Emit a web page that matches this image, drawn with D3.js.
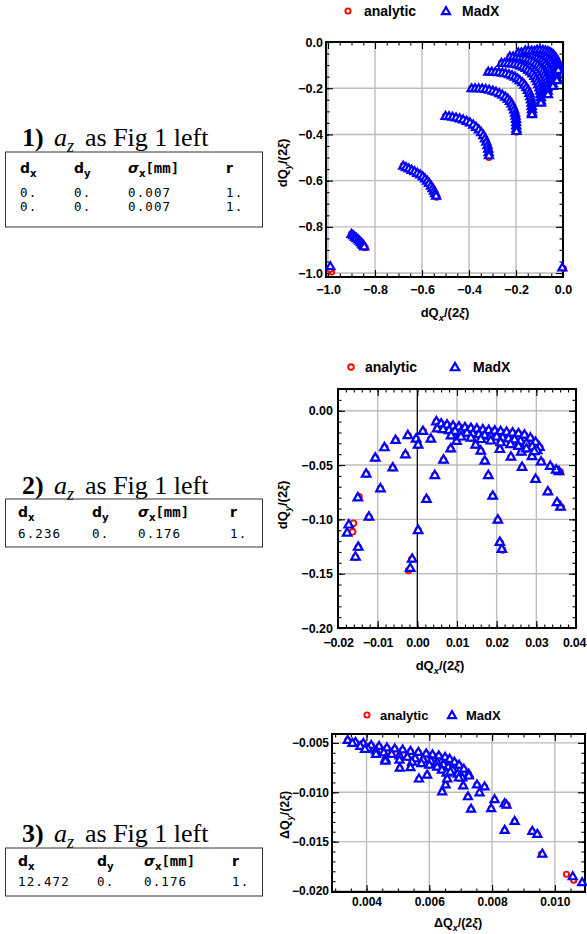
<!DOCTYPE html>
<html><head><meta charset="utf-8">
<script src="https://cdn.jsdelivr.net/npm/d3@7"></script>
<style>body{margin:0;background:#fff}svg{display:block}</style>
</head><body>
<svg id="c" width="587" height="934"></svg>
<script>
// ---------------- DATA ----------------
const seriesNames = ["analytic", "MadX"];

const p1XTicks = [-1.0, -0.8, -0.6, -0.4, -0.2, 0.0];
const p1YTicks = [0.0, -0.2, -0.4, -0.6, -0.8, -1.0];
const p2XTicks = [-0.02, -0.01, 0.00, 0.01, 0.02, 0.03, 0.04];
const p2YTicks = [0.00, -0.05, -0.10, -0.15, -0.20];
const p3XTicks = [0.004, 0.006, 0.008, 0.010];
const p3YTicks = [-0.005, -0.010, -0.015, -0.020];

const p1MadX = [
 [-0.990,-0.970],[-0.003,-0.975],
 [-0.900,-0.830],[-0.893,-0.836],[-0.886,-0.842],[-0.879,-0.848],[-0.872,-0.854],[-0.866,-0.860],[-0.860,-0.866],[-0.855,-0.872],[-0.850,-0.878],[-0.846,-0.884],
 [-0.680,-0.535],[-0.668,-0.541],[-0.656,-0.547],[-0.644,-0.553],[-0.632,-0.559],[-0.620,-0.566],[-0.608,-0.573],[-0.597,-0.581],[-0.587,-0.590],[-0.578,-0.600],[-0.570,-0.610],[-0.562,-0.621],[-0.555,-0.632],[-0.549,-0.643],[-0.544,-0.654],[-0.540,-0.665],
 [-0.500,-0.320],[-0.485,-0.321],[-0.470,-0.323],[-0.455,-0.326],[-0.440,-0.330],[-0.425,-0.335],[-0.410,-0.341],[-0.396,-0.348],[-0.382,-0.357],[-0.370,-0.367],[-0.358,-0.378],[-0.348,-0.390],[-0.339,-0.403],[-0.332,-0.417],[-0.326,-0.431],[-0.321,-0.446],[-0.318,-0.461],[-0.316,-0.476],[-0.315,-0.490],
 [-0.389,-0.200],[-0.374,-0.200],[-0.359,-0.200],[-0.344,-0.201],[-0.329,-0.203],[-0.314,-0.206],[-0.299,-0.210],[-0.285,-0.215],[-0.271,-0.221],[-0.258,-0.228],[-0.246,-0.236],[-0.235,-0.245],[-0.226,-0.255],[-0.219,-0.266],[-0.213,-0.278],[-0.208,-0.291],[-0.204,-0.305],[-0.202,-0.319],[-0.200,-0.333],[-0.199,-0.347],[-0.199,-0.361],[-0.198,-0.375],[-0.198,-0.385],
 [-0.318,-0.128],[-0.303,-0.128],[-0.288,-0.129],[-0.273,-0.130],[-0.258,-0.132],[-0.244,-0.135],[-0.230,-0.139],[-0.217,-0.144],[-0.205,-0.150],[-0.194,-0.157],[-0.184,-0.165],[-0.173,-0.174],[-0.164,-0.184],[-0.156,-0.195],[-0.149,-0.207],[-0.143,-0.220],[-0.139,-0.234],[-0.136,-0.248],[-0.134,-0.262],[-0.133,-0.276],[-0.132,-0.290],[-0.132,-0.304],[-0.132,-0.312],
 [-0.262,-0.090],[-0.248,-0.090],[-0.234,-0.091],[-0.220,-0.092],[-0.207,-0.094],[-0.194,-0.097],[-0.182,-0.101],[-0.170,-0.106],[-0.159,-0.112],[-0.149,-0.119],[-0.139,-0.127],[-0.130,-0.136],[-0.122,-0.146],[-0.115,-0.157],[-0.109,-0.169],[-0.104,-0.182],[-0.100,-0.196],[-0.097,-0.210],[-0.095,-0.224],[-0.094,-0.238],[-0.094,-0.252],[-0.094,-0.262],
 [-0.226,-0.062],[-0.212,-0.062],[-0.198,-0.063],[-0.185,-0.064],[-0.172,-0.066],[-0.160,-0.069],[-0.148,-0.073],[-0.137,-0.078],[-0.127,-0.084],[-0.117,-0.091],[-0.108,-0.099],[-0.100,-0.108],[-0.093,-0.118],[-0.086,-0.129],[-0.080,-0.141],[-0.075,-0.154],[-0.071,-0.168],[-0.068,-0.182],[-0.066,-0.196],[-0.065,-0.210],[-0.064,-0.225],
 [-0.190,-0.045],[-0.177,-0.045],[-0.164,-0.046],[-0.151,-0.047],[-0.139,-0.049],[-0.127,-0.052],[-0.116,-0.056],[-0.106,-0.061],[-0.096,-0.067],[-0.087,-0.074],[-0.079,-0.082],[-0.072,-0.091],[-0.065,-0.101],[-0.059,-0.112],[-0.054,-0.124],[-0.050,-0.137],[-0.047,-0.150],[-0.045,-0.164],[-0.044,-0.178],[-0.043,-0.190],
 [-0.160,-0.036],[-0.147,-0.036],[-0.134,-0.037],[-0.122,-0.038],[-0.110,-0.040],[-0.099,-0.043],[-0.088,-0.047],[-0.078,-0.052],[-0.069,-0.058],[-0.061,-0.065],[-0.054,-0.073],[-0.047,-0.082],[-0.041,-0.092],[-0.036,-0.103],[-0.032,-0.115],[-0.029,-0.128],[-0.027,-0.141],[-0.026,-0.155],[-0.026,-0.165],
 [-0.110,-0.033],[-0.098,-0.033],[-0.086,-0.034],[-0.075,-0.036],[-0.065,-0.039],[-0.056,-0.043],[-0.048,-0.048],[-0.041,-0.054],[-0.035,-0.061],[-0.030,-0.069],[-0.026,-0.078],[-0.023,-0.088],[-0.021,-0.099],[-0.020,-0.110],[-0.020,-0.120]
];
const p1Analytic = [
 [-0.985,-0.995],[-0.992,-0.985],[0.002,-0.980],
 [-0.900,-0.830],[-0.893,-0.836],[-0.886,-0.842],[-0.879,-0.848],[-0.872,-0.854],[-0.866,-0.860],[-0.860,-0.866],[-0.855,-0.872],[-0.850,-0.878],[-0.846,-0.884],[-0.842,-0.890],
 [-0.680,-0.535],[-0.668,-0.541],[-0.656,-0.547],[-0.644,-0.553],[-0.632,-0.559],[-0.620,-0.566],[-0.608,-0.573],[-0.597,-0.581],[-0.587,-0.590],[-0.578,-0.600],[-0.570,-0.610],[-0.562,-0.621],[-0.555,-0.632],[-0.549,-0.643],[-0.544,-0.654],[-0.540,-0.665],[-0.537,-0.672],
 [-0.500,-0.320],[-0.485,-0.321],[-0.470,-0.323],[-0.455,-0.326],[-0.440,-0.330],[-0.425,-0.335],[-0.410,-0.341],[-0.396,-0.348],[-0.382,-0.357],[-0.370,-0.367],[-0.358,-0.378],[-0.348,-0.390],[-0.339,-0.403],[-0.332,-0.417],[-0.326,-0.431],[-0.321,-0.446],[-0.318,-0.461],[-0.316,-0.476],[-0.315,-0.490],[-0.315,-0.500],
 [-0.389,-0.200],[-0.374,-0.200],[-0.359,-0.200],[-0.344,-0.201],[-0.329,-0.203],[-0.314,-0.206],[-0.299,-0.210],[-0.285,-0.215],[-0.271,-0.221],[-0.258,-0.228],[-0.246,-0.236],[-0.235,-0.245],[-0.226,-0.255],[-0.219,-0.266],[-0.213,-0.278],[-0.208,-0.291],[-0.204,-0.305],[-0.202,-0.319],[-0.200,-0.333],[-0.199,-0.347],[-0.199,-0.361],[-0.198,-0.375],[-0.198,-0.390],
 [-0.318,-0.128],[-0.303,-0.128],[-0.288,-0.129],[-0.273,-0.130],[-0.258,-0.132],[-0.244,-0.135],[-0.230,-0.139],[-0.217,-0.144],[-0.205,-0.150],[-0.194,-0.157],[-0.184,-0.165],[-0.173,-0.174],[-0.164,-0.184],[-0.156,-0.195],[-0.149,-0.207],[-0.143,-0.220],[-0.139,-0.234],[-0.136,-0.248],[-0.134,-0.262],[-0.133,-0.276],[-0.132,-0.290],[-0.132,-0.304],[-0.132,-0.315],
 [-0.262,-0.090],[-0.248,-0.090],[-0.234,-0.091],[-0.220,-0.092],[-0.207,-0.094],[-0.194,-0.097],[-0.182,-0.101],[-0.170,-0.106],[-0.159,-0.112],[-0.149,-0.119],[-0.139,-0.127],[-0.130,-0.136],[-0.122,-0.146],[-0.115,-0.157],[-0.109,-0.169],[-0.104,-0.182],[-0.100,-0.196],[-0.097,-0.210],[-0.095,-0.224],[-0.094,-0.238],[-0.094,-0.252],[-0.094,-0.265],
 [-0.226,-0.062],[-0.212,-0.062],[-0.198,-0.063],[-0.185,-0.064],[-0.172,-0.066],[-0.160,-0.069],[-0.148,-0.073],[-0.137,-0.078],[-0.127,-0.084],[-0.117,-0.091],[-0.108,-0.099],[-0.100,-0.108],[-0.093,-0.118],[-0.086,-0.129],[-0.080,-0.141],[-0.075,-0.154],[-0.071,-0.168],[-0.068,-0.182],[-0.066,-0.196],[-0.065,-0.210],[-0.064,-0.228],
 [-0.190,-0.045],[-0.177,-0.045],[-0.164,-0.046],[-0.151,-0.047],[-0.139,-0.049],[-0.127,-0.052],[-0.116,-0.056],[-0.106,-0.061],[-0.096,-0.067],[-0.087,-0.074],[-0.079,-0.082],[-0.072,-0.091],[-0.065,-0.101],[-0.059,-0.112],[-0.054,-0.124],[-0.050,-0.137],[-0.047,-0.150],[-0.045,-0.164],[-0.044,-0.178],[-0.043,-0.192],
 [-0.160,-0.036],[-0.147,-0.036],[-0.134,-0.037],[-0.122,-0.038],[-0.110,-0.040],[-0.099,-0.043],[-0.088,-0.047],[-0.078,-0.052],[-0.069,-0.058],[-0.061,-0.065],[-0.054,-0.073],[-0.047,-0.082],[-0.041,-0.092],[-0.036,-0.103],[-0.032,-0.115],[-0.029,-0.128],[-0.027,-0.141],[-0.026,-0.155],[-0.026,-0.167],
 [-0.110,-0.033],[-0.098,-0.033],[-0.086,-0.034],[-0.075,-0.036],[-0.065,-0.039],[-0.056,-0.043],[-0.048,-0.048],[-0.041,-0.054],[-0.035,-0.061],[-0.030,-0.069],[-0.026,-0.078],[-0.023,-0.088],[-0.021,-0.099],[-0.020,-0.110],[-0.020,-0.121]
];

const p2MadX = [
 [-0.0177,-0.1120],[-0.0173,-0.1045],[-0.0150,-0.0795],[-0.0129,-0.0577],[-0.0106,-0.0430],[-0.0083,-0.0334],[-0.0055,-0.0267],[-0.0024,-0.0222],[0.0014,-0.0184],[0.0048,-0.0095],
 [-0.0156,-0.1340],[-0.0149,-0.1250],[-0.0122,-0.0973],[-0.0093,-0.0712],[-0.0062,-0.0520],[-0.0030,-0.0399],[-0.0003,-0.0255],[0.0034,-0.0255],
 [-0.0018,-0.1445],[-0.0013,-0.1360],[0.0002,-0.1096],[0.0023,-0.0810],[0.0044,-0.0590],[0.0066,-0.0448],[0.0084,-0.0345],[0.0099,-0.0275],[0.0002,-0.0310],
 [0.0213,-0.1270],[0.0208,-0.1205],[0.0203,-0.1000],[0.0190,-0.0780],[0.0179,-0.0590],[0.0170,-0.0457],[0.0160,-0.0365],[0.0147,-0.0310],
 [0.0361,-0.0880],[0.0352,-0.0840],[0.0329,-0.0740],[0.0298,-0.0625],[0.0264,-0.0515],[0.0236,-0.0420],[0.0208,-0.0350],
 [0.0357,-0.0555],[0.0350,-0.0540],[0.0335,-0.0505],[0.0312,-0.0465],[0.0289,-0.0415],[0.0262,-0.0375],
 [0.0060,-0.0115],[0.0075,-0.0125],[0.0090,-0.0135],[0.0105,-0.0143],[0.0120,-0.0150],[0.0135,-0.0157],[0.0150,-0.0163],[0.0165,-0.0169],[0.0180,-0.0175],[0.0195,-0.0180],[0.0210,-0.0186],[0.0225,-0.0192],[0.0240,-0.0198],[0.0255,-0.0205],[0.0270,-0.0218],[0.0285,-0.0245],[0.0298,-0.0285],[0.0308,-0.0330],
 [0.0050,-0.0160],[0.0065,-0.0168],[0.0080,-0.0176],[0.0095,-0.0184],[0.0110,-0.0192],[0.0125,-0.0200],[0.0140,-0.0207],[0.0155,-0.0214],[0.0170,-0.0221],[0.0185,-0.0228],[0.0200,-0.0235],[0.0215,-0.0243],[0.0230,-0.0252],[0.0245,-0.0262],[0.0260,-0.0275],[0.0275,-0.0295],[0.0290,-0.0325],[0.0302,-0.0360],
 [0.0085,-0.0225],[0.0110,-0.0235],[0.0135,-0.0245],[0.0160,-0.0258],[0.0185,-0.0272],[0.0210,-0.0288],[0.0235,-0.0305],[0.0255,-0.0322],[0.0275,-0.0345],[0.0295,-0.0370]
];
const p2Analytic = [
 [-0.0163,-0.1115],[-0.0161,-0.1035],[-0.0147,-0.0792],[-0.0128,-0.0582],[-0.0105,-0.0435],[-0.0082,-0.0339],[-0.0054,-0.0272],[-0.0023,-0.0227],[0.0015,-0.0189],[0.0048,-0.0100],
 [-0.0156,-0.1348],[-0.0149,-0.1257],[-0.0122,-0.0978],[-0.0093,-0.0717],[-0.0062,-0.0525],[-0.0030,-0.0404],[-0.0003,-0.0260],[0.0034,-0.0260],
 [-0.0022,-0.1470],[-0.0014,-0.1368],[0.0002,-0.1100],[0.0023,-0.0815],[0.0044,-0.0595],[0.0066,-0.0453],[0.0084,-0.0350],[0.0099,-0.0280],[0.0002,-0.0318],
 [0.0215,-0.1282],[0.0209,-0.1215],[0.0203,-0.1006],[0.0190,-0.0786],[0.0179,-0.0596],[0.0170,-0.0462],[0.0160,-0.0370],[0.0147,-0.0315],
 [0.0363,-0.0888],[0.0353,-0.0846],[0.0330,-0.0746],[0.0299,-0.0630],[0.0264,-0.0520],[0.0236,-0.0425],[0.0208,-0.0355],
 [0.0360,-0.0562],[0.0351,-0.0546],[0.0336,-0.0510],[0.0313,-0.0470],[0.0289,-0.0420],[0.0262,-0.0380],
 [0.0060,-0.0120],[0.0075,-0.0130],[0.0090,-0.0140],[0.0105,-0.0148],[0.0120,-0.0155],[0.0135,-0.0162],[0.0150,-0.0168],[0.0165,-0.0174],[0.0180,-0.0180],[0.0195,-0.0185],[0.0210,-0.0191],[0.0225,-0.0197],[0.0240,-0.0203],[0.0255,-0.0210],[0.0270,-0.0223],[0.0285,-0.0250],[0.0298,-0.0290],[0.0309,-0.0336],
 [0.0050,-0.0165],[0.0065,-0.0173],[0.0080,-0.0181],[0.0095,-0.0189],[0.0110,-0.0197],[0.0125,-0.0205],[0.0140,-0.0212],[0.0155,-0.0219],[0.0170,-0.0226],[0.0185,-0.0233],[0.0200,-0.0240],[0.0215,-0.0248],[0.0230,-0.0257],[0.0245,-0.0267],[0.0260,-0.0280],[0.0275,-0.0300],[0.0290,-0.0330],[0.0303,-0.0366],
 [0.0085,-0.0230],[0.0110,-0.0240],[0.0135,-0.0250],[0.0160,-0.0263],[0.0185,-0.0277],[0.0210,-0.0293],[0.0235,-0.0310],[0.0255,-0.0327],[0.0275,-0.0350],[0.0296,-0.0376]
];

const p3MadX = [
 [0.00340,-0.00470],[0.00365,-0.00490],[0.00390,-0.00500],[0.00415,-0.00520],[0.00440,-0.00530],[0.00465,-0.00545],[0.00490,-0.00555],[0.00515,-0.00565],[0.00540,-0.00580],[0.00565,-0.00590],[0.00590,-0.00605],[0.00610,-0.00615],[0.00630,-0.00625],[0.00650,-0.00640],[0.00665,-0.00660],[0.00680,-0.00690],[0.00695,-0.00720],[0.00710,-0.00760],[0.00725,-0.00810],
 [0.00355,-0.00500],[0.00380,-0.00530],[0.00405,-0.00555],[0.00430,-0.00575],[0.00455,-0.00595],[0.00480,-0.00610],[0.00505,-0.00625],[0.00530,-0.00640],[0.00555,-0.00655],[0.00580,-0.00665],[0.00605,-0.00680],[0.00625,-0.00695],[0.00645,-0.00715],[0.00660,-0.00740],[0.00675,-0.00770],[0.00690,-0.00810],[0.00705,-0.00850],
 [0.00395,-0.00560],[0.00430,-0.00610],[0.00460,-0.00660],[0.00505,-0.00670],[0.00545,-0.00690],[0.00575,-0.00705],[0.00600,-0.00720],[0.00625,-0.00740],[0.00640,-0.00770],[0.00655,-0.00800],
 [0.00460,-0.00680],[0.00506,-0.00750],[0.00540,-0.00745],[0.00567,-0.00860],[0.00593,-0.00820],[0.00641,-0.00990],[0.00652,-0.00920],[0.00657,-0.00860],[0.00667,-0.00790],[0.00694,-0.00850],[0.00708,-0.00930],[0.00723,-0.01040],[0.00733,-0.01165],[0.00726,-0.00830],[0.00752,-0.00920],[0.00760,-0.01000],[0.00776,-0.00940],[0.00797,-0.01160],[0.00808,-0.01070],[0.00840,-0.01110],[0.00846,-0.01125],[0.00840,-0.01380],[0.00872,-0.01290],[0.00928,-0.01390],[0.00944,-0.01420],[0.00960,-0.01620],[0.01057,-0.01850],[0.01087,-0.01910]
];
const p3Analytic = [
 [0.00340,-0.00475],[0.00365,-0.00495],[0.00390,-0.00505],[0.00415,-0.00525],[0.00440,-0.00535],[0.00465,-0.00550],[0.00490,-0.00560],[0.00515,-0.00570],[0.00540,-0.00585],[0.00565,-0.00595],[0.00590,-0.00610],[0.00610,-0.00620],[0.00630,-0.00630],[0.00650,-0.00645],[0.00665,-0.00665],[0.00680,-0.00695],[0.00695,-0.00725],[0.00710,-0.00765],[0.00725,-0.00815],
 [0.00355,-0.00505],[0.00380,-0.00535],[0.00405,-0.00560],[0.00430,-0.00580],[0.00455,-0.00600],[0.00480,-0.00615],[0.00505,-0.00630],[0.00530,-0.00645],[0.00555,-0.00660],[0.00580,-0.00670],[0.00605,-0.00685],[0.00625,-0.00700],[0.00645,-0.00720],[0.00660,-0.00745],[0.00675,-0.00775],[0.00690,-0.00815],[0.00705,-0.00855],
 [0.00395,-0.00565],[0.00430,-0.00615],[0.00460,-0.00665],[0.00505,-0.00675],[0.00545,-0.00695],[0.00575,-0.00710],[0.00600,-0.00725],[0.00625,-0.00745],[0.00640,-0.00775],[0.00655,-0.00805],
 [0.00460,-0.00685],[0.00506,-0.00755],[0.00540,-0.00750],[0.00567,-0.00865],[0.00593,-0.00825],[0.00641,-0.00995],[0.00652,-0.00925],[0.00657,-0.00865],[0.00667,-0.00795],[0.00694,-0.00855],[0.00708,-0.00935],[0.00723,-0.01045],[0.00733,-0.01170],[0.00726,-0.00835],[0.00752,-0.00925],[0.00760,-0.01005],[0.00776,-0.00945],[0.00797,-0.01165],[0.00808,-0.01075],[0.00840,-0.01115],[0.00848,-0.01130],[0.00840,-0.01385],[0.00872,-0.01295],[0.00928,-0.01395],[0.00944,-0.01425],[0.00957,-0.01625],[0.01037,-0.01830],[0.01060,-0.01890]
];

const table1Rows = [["0.", "0.", "0.007", "1."], ["0.", "0.", "0.007", "1."]];
const table2Rows = [["6.236", "0.", "0.176", "1."]];
const table3Rows = [["12.472", "0.", "0.176", "1."]];
const tableTitles = ["1)", "2)", "3)"];

// ---------------- DRAWING ----------------
const svg = d3.select("#c");
const RED = "#ff0000", BLUE = "#0000ff";
const SANS = "'Liberation Sans', Arial, sans-serif";

function rich(sel, parts, fs) {
  let shift = 0;
  parts.forEach(p => {
    const ts = sel.append("tspan").text(p.t);
    const target = p.sub ? fs * 0.28 : 0;
    if (target - shift) ts.attr("dy", target - shift);
    shift = target;
    if (p.sub) ts.attr("font-size", fs * 0.72);
    if (p.it) ts.attr("font-style", "italic");
    if (p.ff) ts.attr("font-family", p.ff);
    if (p.fw) ts.attr("font-weight", p.fw);
  });
}

function triPath(a) {
  const h = a * 0.866;
  return `M0,${-h * 0.56}L${a / 2},${h * 0.44}L${-a / 2},${h * 0.44}Z`;
}

function panel(c) {
  const g = svg.append("g");
  const x = d3.scaleLinear().domain(c.xd).range([c.L, c.R]);
  const y = d3.scaleLinear().domain(c.yd).range([c.B, c.T]);
  const fmtX = d3.format(c.xf), fmtY = d3.format(c.yf);

  g.append("g").selectAll("line").data(c.xt).join("line")
    .attr("x1", d => x(d)).attr("x2", d => x(d)).attr("y1", c.T).attr("y2", c.B)
    .attr("stroke", "#bdbdbd").attr("stroke-width", 1.4);
  g.append("g").selectAll("line").data(c.yt).join("line")
    .attr("y1", d => y(d)).attr("y2", d => y(d)).attr("x1", c.L).attr("x2", c.R)
    .attr("stroke", "#bdbdbd").attr("stroke-width", 1.4);
  if (c.zero) g.append("line").attr("x1", x(0)).attr("x2", x(0)).attr("y1", c.T).attr("y2", c.B)
    .attr("stroke", "#000").attr("stroke-width", 1.2);

  const inX = v => v >= Math.min(...c.xd) - 1e-12 && v <= Math.max(...c.xd) + 1e-12;
  const inY = v => v >= Math.min(...c.yd) - 1e-12 && v <= Math.max(...c.yd) + 1e-12;
  const xMin = d3.range(Math.round(c.xd[0] / c.xm) - 1, Math.round(c.xd[1] / c.xm) + 2).map(i => i * c.xm).filter(inX);
  const yMin = d3.range(Math.round(c.yd[0] / c.ym) - 1, Math.round(c.yd[1] / c.ym) + 2).map(i => i * c.ym).filter(inY);

  function ax(gen, tr, vals, size, pad, fmt) {
    const a = gen.tickValues(vals).tickSize(-size).tickPadding(pad).tickFormat(fmt || "");
    const s = g.append("g").attr("transform", tr).call(a);
    s.select(".domain").remove();
    s.selectAll("line").attr("stroke", "#000").attr("stroke-width", 1.1);
    s.selectAll("text").attr("font-family", SANS).attr("font-weight", "bold")
      .attr("font-size", c.tfs).attr("fill", "#000");
    return s;
  }
  ax(d3.axisBottom(x), `translate(0,${c.B})`, xMin, 3.5, 0);
  ax(d3.axisTop(x), `translate(0,${c.T})`, xMin, 3.5, 0);
  ax(d3.axisLeft(y), `translate(${c.L},0)`, yMin, 3.5, 0);
  ax(d3.axisRight(y), `translate(${c.R},0)`, yMin, 3.5, 0);
  const bx = ax(d3.axisBottom(x), `translate(0,${c.B})`, c.xt, 7, c.xpad, fmtX);
  if (c.xls) bx.selectAll("text").attr("letter-spacing", c.xls);
  if (c.lastDx) bx.selectAll("text").filter((d, i, n) => i === n.length - 1).attr("dx", c.lastDx);
  ax(d3.axisTop(x), `translate(0,${c.T})`, c.xt, 7, 0);
  ax(d3.axisLeft(y), `translate(${c.L},0)`, c.yt, 7, c.ypad, fmtY);
  ax(d3.axisRight(y), `translate(${c.R},0)`, c.yt, 7, 0);

  g.append("rect").attr("x", c.L).attr("y", c.T).attr("width", c.R - c.L).attr("height", c.B - c.T)
    .attr("fill", "none").attr("stroke", "#000").attr("stroke-width", 2);

  g.append("g").selectAll("circle").data(c.a).join("circle")
    .attr("cx", d => x(d[0])).attr("cy", d => y(d[1])).attr("r", c.r)
    .attr("fill", "#fff").attr("stroke", RED).attr("stroke-width", 1.9);
  g.append("g").selectAll("path").data(c.m).join("path")
    .attr("transform", d => `translate(${x(d[0])},${y(d[1])})`).attr("d", triPath(c.tri))
    .attr("fill", "#fff").attr("stroke", BLUE).attr("stroke-width", 2.2).attr("stroke-linejoin", "miter");

  // legend
  const L = c.leg;
  g.append("circle").attr("cx", L.c1).attr("cy", L.y).attr("r", c.r)
    .attr("fill", "#fff").attr("stroke", RED).attr("stroke-width", 1.9);
  g.append("path").attr("transform", `translate(${L.c2},${L.y})`).attr("d", triPath(c.tri))
    .attr("fill", "#fff").attr("stroke", BLUE).attr("stroke-width", 2.2);
  [[L.t1, seriesNames[0]], [L.t2, seriesNames[1]]].forEach(([tx, s]) =>
    g.append("text").attr("x", tx).attr("y", L.y + L.fs * 0.36).text(s)
      .attr("font-family", SANS).attr("font-weight", "bold").attr("font-size", L.fs));

  // axis labels
  const xl = g.append("text").attr("x", c.xl[0]).attr("y", c.xl[1]).attr("text-anchor", "middle")
    .attr("font-family", SANS).attr("font-weight", "bold").attr("font-size", c.lfs);
  rich(xl, [{ t: c.q + "Q" }, { t: "x", sub: true, it: true }, { t: "/(2" }, { t: "ξ", it: true }, { t: ")" }], c.lfs);
  const yl = g.append("text").attr("transform", `translate(${c.yl[0]},${c.yl[1]}) rotate(-90)`)
    .attr("text-anchor", "middle").attr("font-family", SANS).attr("font-weight", "bold").attr("font-size", c.lfs);
  rich(yl, [{ t: c.q + "Q" }, { t: "y", sub: true, it: true }, { t: "/(2" }, { t: "ξ", it: true }, { t: ")" }], c.lfs);
}

panel({ L: 326, R: 563, T: 42, B: 277, xd: [-1.0085, 0.0], yd: [-1.017, 0.0],
  xt: p1XTicks, yt: p1YTicks, xm: 0.05, ym: 0.05, xf: ".1f", yf: ".1f", tfs: 12.5, xpad: 8, ypad: 3,
  a: p1Analytic, m: p1MadX, r: 2.6, tri: 8, q: "d",
  leg: { y: 11, c1: 348, t1: 364, c2: 446, t2: 462, fs: 14 },
  xl: [445, 317], yl: [287, 163], lfs: 13 });

panel({ L: 338, R: 576, T: 389, B: 628, xd: [-0.02, 0.04], yd: [-0.20, 0.02],
  xt: p2XTicks, yt: p2YTicks, xm: 0.002, ym: 0.01, xf: ".2f", yf: ".2f", tfs: 12.5, xpad: 10, ypad: 5,
  xls: -0.3, lastDx: -2,
  a: p2Analytic, m: p2MadX, r: 2.8, tri: 8.5, q: "d", zero: true,
  leg: { y: 367, c1: 351, t1: 365, c2: 455, t2: 473, fs: 14 },
  xl: [440, 670], yl: [287, 505], lfs: 13 });

panel({ L: 332, R: 585, T: 734, B: 892, xd: [0.0029, 0.01096], yd: [-0.0201, -0.0041],
  xt: p3XTicks, yt: p3YTicks, xm: 0.0005, ym: 0.001, xf: ".3f", yf: ".3f", tfs: 12, xpad: 5, ypad: 3,
  a: p3Analytic, m: p3MadX, r: 2.6, tri: 8, q: "Δ",
  leg: { y: 715, c1: 367, t1: 380, c2: 452, t2: 466, fs: 13 },
  xl: [458, 927], yl: [289, 815], lfs: 12.5 });

// tables
function table(c) {
  const g = svg.append("g");
  const t = g.append("text").attr("x", 22).attr("y", c.ty).attr("font-family", "'Liberation Serif', 'Times New Roman', serif").attr("font-size", 26);
  t.append("tspan").attr("font-weight", "bold").text(c.title);
  t.append("tspan").attr("x", 54).attr("font-style", "italic").text("a");
  t.append("tspan").attr("font-style", "italic").attr("font-size", 18).attr("dy", 6).text("z");
  t.append("tspan").attr("x", 85).attr("dy", -6).text("as Fig 1 left");
  g.append("rect").attr("x", 5.5).attr("y", c.by).attr("width", 257).attr("height", c.bh)
    .attr("fill", "none").attr("stroke", "#333").attr("stroke-width", 1);
  const hf = "'DejaVu Sans', Verdana, sans-serif";
  const heads = [
    [{ t: "d" }, { t: "x", sub: true }],
    [{ t: "d" }, { t: "y", sub: true }],
    [{ t: "σ", it: true }, { t: "x", sub: true }, { t: "[mm]", ff: "'DejaVu Sans Mono', monospace" }],
    [{ t: "r" }]
  ];
  heads.forEach((h, i) => {
    const ht = g.append("text").attr("x", c.cols[i]).attr("y", c.hy).attr("font-family", hf)
      .attr("font-weight", "bold").attr("font-size", 14);
    rich(ht, h, 14);
  });
  c.rows.forEach((row, j) => row.forEach((v, i) =>
    g.append("text").attr("x", c.cols[i]).attr("y", c.ry + j * c.rs).text(v)
      .attr("font-family", "'DejaVu Sans Mono', monospace").attr("font-size", 12.5)
      .attr("letter-spacing", 1.1).attr("fill", "#000")));
}
table({ title: tableTitles[0], ty: 146, by: 152, bh: 75, hy: 173, ry: 197, rs: 14, cols: [20, 74, 128, 226], rows: table1Rows });
table({ title: tableTitles[1], ty: 494, by: 499, bh: 48, hy: 517, ry: 538, rs: 14, cols: [18, 92, 138, 230], rows: table2Rows });
table({ title: tableTitles[2], ty: 842, by: 848, bh: 48, hy: 866, ry: 886, rs: 14, cols: [18, 97, 144, 232], rows: table3Rows });
</script>
</body></html>
